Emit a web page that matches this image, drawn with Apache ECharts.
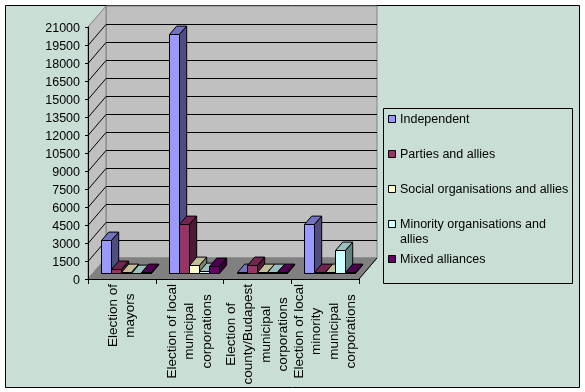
<!DOCTYPE html>
<html>
<head>
<meta charset="utf-8">
<style>
  html, body { margin: 0; padding: 0; background: #fff; }
  #chart { width: 585px; height: 392px; }
</style>
<script src="https://cdn.jsdelivr.net/npm/echarts@6/dist/echarts.min.js"></script>
</head>
<body>
<div id="chart"></div>
<script>
const categories = [
  'Election of\nmayors',
  'Election of local\nmunicipal\ncorporations',
  'Election of\ncounty/Budapest\nmunicipal\ncorporations',
  'Election of local\nminority\nmunicipal\ncorporations'
]
const seriesNames = [
  'Independent',
  'Parties and allies',
  'Social organisations and allies',
  'Minority organisations and\nallies',
  'Mixed alliances'
]
const independent = [2700, 19900, 60, 4050]
const parties = [300, 4100, 680, 20]
const social = [20, 680, 60, 20]
const minority = [10, 120, 50, 1870]
const mixed = [20, 540, 30, 20]
const seriesValues = [independent, parties, social, minority, mixed]
const gridTicks = [1500, 3000, 4500, 6000, 7500, 9000, 10500, 12000, 13500, 15000, 16500, 18000, 19500]

const barColors = [
  ['#9999FF', '#7373BF', '#4D4D80'],
  ['#993366', '#73264D', '#4D1A33'],
  ['#FFFFCC', '#BFBF99', '#808066'],
  ['#CCFFFF', '#99BFBF', '#668080'],
  ['#660066', '#4D004D', '#330033']
]

// depth of the floor, and where the bars stand on it
const depthX = 18
const depthY = -21
const barInX = 4.4
const barInY = -6.3
const barDepthX = 7.2
const barDepthY = -8.4
const barRatio = 0.148

const crisp = v => Math.round(v) + 0.5

function polygon(points, fill, stroke) {
  return {
    type: 'polygon',
    shape: { points: points },
    style: { fill: fill, stroke: stroke, lineWidth: 1 }
  }
}

function renderWalls(params) {
  const g = params.coordSys
  const x0 = g.x
  const x1 = g.x + g.width
  const y0 = g.y
  const y1 = g.y + g.height
  return {
    type: 'group',
    children: [
      polygon([[x0 + depthX, y0 + depthY], [x1 + depthX, y0 + depthY], [x1 + depthX, y1 + depthY], [x0 + depthX, y1 + depthY]], '#C0C0C0', '#808080'),
      polygon([[x0, y0], [x0 + depthX, y0 + depthY], [x0 + depthX, y1 + depthY], [x0, y1]], '#C0C0C0', '#808080'),
      polygon([[x0, y1], [x0 + depthX, y1 + depthY], [x1 + depthX, y1 + depthY], [x1, y1]], '#808080', '#808080'),
      {
        type: 'line',
        shape: { x1: x1, y1: y1, x2: x1 + depthX, y2: y1 + depthY },
        style: { stroke: '#000', lineWidth: 1 }
      }
    ]
  }
}

function renderGridLine(params, api) {
  const g = params.coordSys
  const y = crisp(api.coord([0, api.value(0)])[1])
  return {
    type: 'polyline',
    shape: { points: [[g.x, y], [g.x + depthX, y + depthY], [g.x + g.width + depthX, y + depthY]] },
    style: { fill: null, stroke: '#000', lineWidth: 1 }
  }
}

function renderBar(params, api) {
  const idx = params.seriesIndex - 2
  const base = api.coord([api.value(0), 0])
  const top = api.coord([api.value(0), api.value(1)])
  const catW = api.size([1, 0])[0]
  const barW = catW * barRatio
  const gap = (catW - barW * 5) / 2
  const left = crisp(base[0] - catW / 2 + gap + idx * barW + barInX)
  const right = crisp(base[0] - catW / 2 + gap + (idx + 1) * barW + barInX)
  const y0 = crisp(base[1] + barInY)
  const y1 = crisp(top[1] + barInY)
  const c = barColors[idx]
  return {
    type: 'group',
    children: [
      polygon([[left, y1], [left + barDepthX, y1 + barDepthY], [right + barDepthX, y1 + barDepthY], [right, y1]], c[1], '#000'),
      polygon([[right, y0], [right + barDepthX, y0 + barDepthY], [right + barDepthX, y1 + barDepthY], [right, y1]], c[2], '#000'),
      polygon([[left, y0], [right, y0], [right, y1], [left, y1]], c[0], '#000')
    ]
  }
}

// legend is drawn by hand: the wrapped entry keeps its key on the first line
function legendGraphics() {
  const items = []
  seriesNames.forEach((name, i) => {
    const cy = 119 + i * 35
    items.push({
      type: 'rect',
      shape: { x: 388.5, y: cy - 3.5, width: 7, height: 7 },
      style: { fill: barColors[i][0], stroke: '#000', lineWidth: 1 }
    })
    items.push({
      type: 'text',
      x: 400,
      y: cy - 7,
      style: {
        text: name,
        fill: '#000',
        font: '12.5px "Liberation Sans"',
        lineHeight: 15,
        verticalAlign: 'top'
      }
    })
  })
  return items
}

const chart = echarts.init(document.getElementById('chart'))
chart.setOption({
  animation: false,
  graphic: [
    {
      type: 'rect',
      z: -10,
      shape: { x: 5.5, y: 5.5, width: 574, height: 382 },
      style: { fill: '#C9DFD6', stroke: '#000', lineWidth: 1 }
    },
    {
      type: 'rect',
      z: -9,
      shape: { x: 383.5, y: 108.5, width: 189, height: 175 },
      style: { fill: '#C9DFD6', stroke: '#000', lineWidth: 1 }
    }
  ].concat(legendGraphics()),
  grid: {
    left: 88,
    top: 27,
    width: 271,
    height: 252,
    outerBoundsMode: 'none'
  },
  xAxis: {
    type: 'category',
    data: categories,
    axisLine: { lineStyle: { color: '#000' } },
    axisTick: { show: true, length: 5, alignWithLabel: false, lineStyle: { color: '#000' } },
    axisLabel: {
      interval: 0,
      rotate: 90,
      margin: 5,
      color: '#000',
      fontFamily: 'Liberation Sans',
      fontSize: 13.5,
      lineHeight: 17.5,
      formatter: value => value.split('\n').map(line => '{c|' + line + '}').join('\n'),
      rich: {
        c: { align: 'center', fontFamily: 'Liberation Sans', fontSize: 13.5, lineHeight: 17.5, color: '#000' }
      }
    }
  },
  yAxis: {
    type: 'value',
    min: 0,
    max: 21000,
    interval: 1500,
    axisLine: { show: true, lineStyle: { color: '#000' } },
    axisTick: { show: true, length: 3, lineStyle: { color: '#000' } },
    splitLine: { show: false },
    axisLabel: {
      margin: 8,
      color: '#000',
      fontFamily: 'Liberation Sans',
      fontSize: 12.5,
      verticalAlign: 'top',
      lineHeight: 3,
      formatter: value => String(value)
    }
  },
  series: [
    { type: 'custom', name: 'walls', z: -2, silent: true, clip: false, renderItem: renderWalls, data: [0] },
    { type: 'custom', name: 'gridlines', z: -1, silent: true, clip: false, renderItem: renderGridLine, encode: { y: 0 }, data: gridTicks }
  ].concat(seriesValues.map((values, i) => ({
    type: 'custom',
    name: seriesNames[i],
    clip: false,
    renderItem: renderBar,
    encode: { x: 0, y: 1 },
    data: values.map((v, c) => [c, v])
  })))
})
</script>
</body>
</html>
